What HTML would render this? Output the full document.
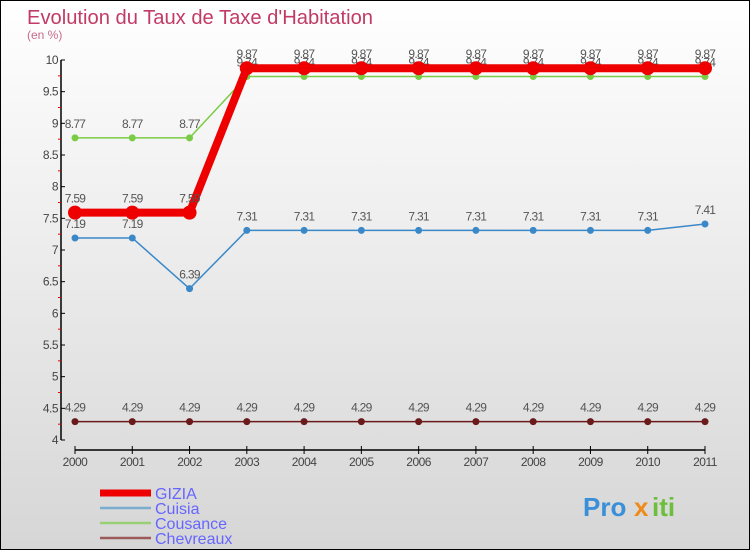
<!DOCTYPE html>
<html><head><meta charset="utf-8"><style>
body{margin:0}
#wrap{width:750px;height:550px;position:relative;overflow:hidden}
svg text{font-family:"Liberation Sans",sans-serif}
</style></head><body>
<div id="wrap">
<svg id="c" width="750" height="550" viewBox="0 0 750 550">
<defs><linearGradient id="bg" x1="0" y1="0" x2="0" y2="1"><stop offset="0" stop-color="#ffffff"/><stop offset="1" stop-color="#d6d6d6"/></linearGradient></defs>
<rect x="0.5" y="0.5" width="749" height="549" fill="url(#bg)" stroke="#000"/>
<text x="27" y="24" font-size="20" fill="#c23a66" textLength="346" lengthAdjust="spacingAndGlyphs">Evolution du Taux de Taxe d'Habitation</text>
<text x="27" y="39" font-size="12" fill="#c86a8a">(en %)</text>
<g id="axes"></g><g id="series"></g><g id="legend"></g>
<g font-size="26" font-weight="bold">
<text x="583" y="516" fill="#3a8fd8">Pro</text><text x="634" y="516" fill="#f08a1a">x</text><text x="652" y="516" fill="#6cbf3a">iti</text>
</g>
</svg></div>
<script>
const years=["2000","2001","2002","2003","2004","2005","2006","2007","2008","2009","2010","2011"];
const yTicks=[4,4.5,5,5.5,6,6.5,7,7.5,8,8.5,9,9.5,10];
const seriesNames=["GIZIA","Cuisia","Cousance","Chevreaux"];
const gizia=[7.59,7.59,7.59,9.87,9.87,9.87,9.87,9.87,9.87,9.87,9.87,9.87];
const cuisia=[7.19,7.19,6.39,7.31,7.31,7.31,7.31,7.31,7.31,7.31,7.31,7.41];
const cousance=[8.77,8.77,8.77,9.74,9.74,9.74,9.74,9.74,9.74,9.74,9.74,9.74];
const chevreaux=[4.29,4.29,4.29,4.29,4.29,4.29,4.29,4.29,4.29,4.29,4.29,4.29];
const NS="http://www.w3.org/2000/svg";
function X(i){return 75+i*(630/(years.length-1));}
function Y(v){return 440-(v-4)*(380/6);}
function mk(p,tag,a){const e=document.createElementNS(NS,tag);for(const k in a)e.setAttribute(k,a[k]);p.appendChild(e);return e;}
const ax=document.getElementById('axes');
let e=mk(ax,'line',{x1:61,y1:Y(10),x2:61,y2:Y(4),stroke:'#000','stroke-width':1.5});


e=mk(ax,'line',{x1:75,y1:450,x2:705,y2:450,stroke:'#000','stroke-width':1.5});


yTicks.forEach((t,i)=>{
 mk(ax,'line',{x1:61,y1:Y(t),x2:65,y2:Y(t),stroke:'#000'});
 if(i<yTicks.length-1) mk(ax,'line',{x1:58,y1:Y(t+0.25),x2:61,y2:Y(t+0.25),stroke:'#e00'});
 const tx=mk(ax,'text',{x:58,y:Y(t)+4,'font-size':12,fill:'#444','text-anchor':'end','letter-spacing':'-0.5'});
 tx.textContent=String(t);
 
 
});
years.forEach((y,i)=>{
 mk(ax,'line',{x1:X(i),y1:446,x2:X(i),y2:454,stroke:'#000'});
 const tx=mk(ax,'text',{x:X(i),y:466,'font-size':12,fill:'#444','text-anchor':'middle','letter-spacing':'-0.5'});
 tx.textContent=y;
 
 
});
const sg=document.getElementById('series');
function draw(vals,color,w,r,name){
 const g=mk(sg,'g',{});
 
 
 const l=mk(g,'polyline',{points:vals.map((v,i)=>X(i)+','+Y(v)).join(' '),fill:'none',stroke:color,'stroke-width':w,'stroke-linejoin':'round'});
 
 
 vals.forEach((v,i)=>{
  const c=mk(g,'circle',{cx:X(i),cy:Y(v),r:r,fill:color});
  
  
  const t=mk(g,'text',{x:X(i),y:Y(v)-10,'font-size':12,fill:'#555','text-anchor':'middle','letter-spacing':'-0.7'});
  t.textContent=String(v);
  
  
 });
}
draw(chevreaux,'#6a1a1a',1.5,3.5,'chevreaux');
draw(cuisia,'#3a88c8',1.5,3.5,'cuisia');
draw(cousance,'#7acc44',1.5,3.5,'cousance');
draw(gizia,'#ee0000',8,7,'gizia');
const lg=document.getElementById('legend');
const colors=['#ee0000','#7aaed0','#99d077','#9a5a5a'];
const widths=[7,2.5,2.5,2.5];
seriesNames.forEach((n,i)=>{
 const y=493+i*15;
 const g=mk(lg,'g',{});
 
 
 mk(g,'line',{x1:100,y1:y,x2:151,y2:y,stroke:colors[i],'stroke-width':widths[i]});
 const t=mk(g,'text',{x:155,y:y+6,'font-size':16,fill:'#6666ff'});
 t.textContent=n;
});
</script>
</body></html>
